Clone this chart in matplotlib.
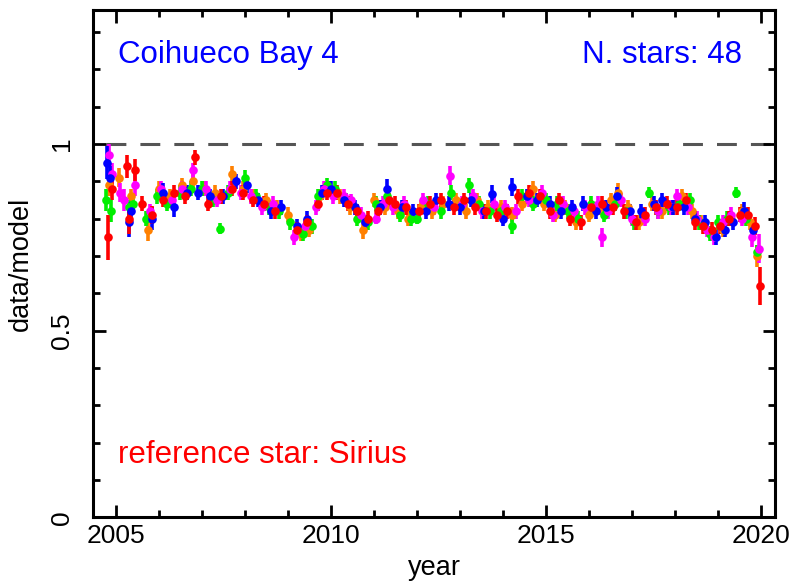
import matplotlib
matplotlib.use("Agg")
import matplotlib.pyplot as plt
from matplotlib.ticker import MultipleLocator, FixedLocator

plt.rcParams['font.family'] = ['Liberation Sans', 'DejaVu Sans']

# ---------------- data ----------------
red_years = [2004.82, 2004.9, 2005.25, 2005.3, 2005.45, 2005.6, 2005.85, 2006.1, 2006.35, 2006.6,
             2006.85, 2007.15, 2007.45, 2007.7, 2007.95, 2008.2, 2008.45, 2008.7, 2009.2, 2009.45,
             2009.7, 2009.9, 2010.15, 2010.4, 2010.6, 2010.85, 2011.1, 2011.35, 2011.5, 2011.75,
             2012.05, 2012.3, 2012.55, 2012.85, 2013.1, 2013.35, 2013.6, 2013.85, 2014.1, 2014.35,
             2014.6, 2014.85, 2015.1, 2015.3, 2015.55, 2015.8, 2016.05, 2016.3, 2016.55, 2016.8,
             2017.1, 2017.3, 2017.55, 2017.8, 2018.05, 2018.25, 2018.45, 2018.65, 2018.85, 2019.05,
             2019.25, 2019.5, 2019.7, 2019.85, 2019.98]
red_vals = [0.75, 0.88, 0.94, 0.80, 0.93, 0.84, 0.81, 0.85, 0.87, 0.86,
            0.965, 0.84, 0.86, 0.88, 0.87, 0.85, 0.84, 0.82, 0.77, 0.79,
            0.84, 0.87, 0.87, 0.84, 0.82, 0.80, 0.82, 0.85, 0.84, 0.83,
            0.82, 0.84, 0.85, 0.83, 0.85, 0.83, 0.82, 0.81, 0.82, 0.86,
            0.87, 0.86, 0.82, 0.85, 0.80, 0.79, 0.83, 0.84, 0.83, 0.82,
            0.79, 0.81, 0.83, 0.84, 0.83, 0.85, 0.79, 0.78, 0.77, 0.78,
            0.80, 0.81, 0.81, 0.78, 0.62]
red_errs = [0.06, 0.03, 0.03, 0.04, 0.03, 0.02, 0.025, 0.02, 0.02, 0.02,
            0.02, 0.02, 0.02, 0.02, 0.02, 0.02, 0.02, 0.02, 0.02, 0.02,
            0.02, 0.02, 0.02, 0.02, 0.02, 0.02, 0.02, 0.02, 0.02, 0.02,
            0.02, 0.02, 0.02, 0.02, 0.02, 0.02, 0.02, 0.02, 0.02, 0.02,
            0.02, 0.02, 0.02, 0.02, 0.02, 0.02, 0.02, 0.02, 0.02, 0.02,
            0.02, 0.02, 0.02, 0.02, 0.02, 0.02, 0.02, 0.02, 0.02, 0.02,
            0.02, 0.02, 0.02, 0.025, 0.05]

orange_years = [2004.85, 2005.07, 2005.35, 2005.75, 2006.0, 2006.25, 2006.55, 2006.8, 2007.05, 2007.3,
                2007.7, 2007.95, 2008.2, 2008.5, 2008.75, 2009.0, 2009.3, 2009.5, 2009.75, 2009.95,
                2010.2, 2010.45, 2010.75, 2011.0, 2011.25, 2011.55, 2011.8, 2012.1, 2012.35, 2012.6,
                2012.9, 2013.15, 2013.4, 2013.65, 2013.95, 2014.2, 2014.45, 2014.7, 2014.95, 2015.2,
                2015.45, 2015.7, 2016.0, 2016.25, 2016.5, 2016.67, 2016.9, 2017.15, 2017.45, 2017.7,
                2017.95, 2018.15, 2018.4, 2018.6, 2018.85, 2019.1, 2019.3, 2019.55, 2019.75, 2019.9]
orange_vals = [0.89, 0.91, 0.86, 0.77, 0.88, 0.86, 0.89, 0.90, 0.88, 0.87,
               0.92, 0.88, 0.86, 0.85, 0.83, 0.81, 0.76, 0.77, 0.86, 0.88,
               0.86, 0.83, 0.77, 0.85, 0.83, 0.82, 0.80, 0.83, 0.82, 0.84,
               0.85, 0.82, 0.85, 0.83, 0.83, 0.81, 0.84, 0.88, 0.84, 0.81,
               0.83, 0.79, 0.81, 0.83, 0.85, 0.87, 0.83, 0.79, 0.84, 0.82,
               0.83, 0.86, 0.82, 0.79, 0.76, 0.77, 0.80, 0.82, 0.79, 0.70]
orange_errs = [0.03, 0.025, 0.02, 0.03, 0.02, 0.02, 0.02, 0.02, 0.02, 0.02,
               0.02, 0.02, 0.02, 0.02, 0.02, 0.02, 0.02, 0.02, 0.02, 0.02,
               0.02, 0.02, 0.025, 0.02, 0.02, 0.02, 0.02, 0.02, 0.02, 0.02,
               0.02, 0.02, 0.02, 0.02, 0.02, 0.02, 0.02, 0.02, 0.02, 0.02,
               0.02, 0.02, 0.02, 0.02, 0.02, 0.025, 0.02, 0.02, 0.02, 0.02,
               0.02, 0.02, 0.02, 0.02, 0.02, 0.02, 0.02, 0.02, 0.02, 0.03]

green_years = [2004.78, 2004.88, 2005.3, 2005.4, 2005.7, 2005.95, 2006.2, 2006.5, 2006.75, 2007.0,
               2007.25, 2007.41, 2007.6, 2008.0, 2008.25, 2008.55, 2008.8, 2009.05, 2009.35, 2009.55,
               2009.7, 2009.9, 2010.1, 2010.35, 2010.6, 2010.85, 2011.05, 2011.3, 2011.6, 2011.85,
               2012.0, 2012.25, 2012.55, 2012.8, 2013.2, 2013.45, 2013.7, 2013.95, 2014.2, 2014.45,
               2014.7, 2015.0, 2015.25, 2015.5, 2015.75, 2016.05, 2016.35, 2016.6, 2016.85, 2017.05,
               2017.4, 2017.6, 2017.85, 2018.1, 2018.35, 2018.55, 2018.8, 2019.0, 2019.2, 2019.42,
               2019.65, 2019.9]
green_vals = [0.85, 0.82, 0.83, 0.84, 0.80, 0.86, 0.84, 0.87, 0.88, 0.88,
              0.85, 0.773, 0.87, 0.91, 0.86, 0.83, 0.82, 0.79, 0.76, 0.78,
              0.86, 0.89, 0.88, 0.85, 0.80, 0.79, 0.84, 0.86, 0.81, 0.80,
              0.80, 0.84, 0.82, 0.87, 0.89, 0.84, 0.82, 0.82, 0.78, 0.86,
              0.84, 0.85, 0.84, 0.82, 0.80, 0.84, 0.81, 0.84, 0.82, 0.79,
              0.87, 0.82, 0.83, 0.84, 0.85, 0.79, 0.76, 0.79, 0.80, 0.87,
              0.80, 0.71]
green_errs = [0.03, 0.03, 0.02, 0.025, 0.02, 0.02, 0.02, 0.02, 0.02, 0.02,
              0.02, 0.015, 0.02, 0.02, 0.02, 0.02, 0.02, 0.02, 0.02, 0.02,
              0.02, 0.02, 0.02, 0.02, 0.02, 0.02, 0.02, 0.02, 0.02, 0.02,
              0.015, 0.02, 0.02, 0.02, 0.02, 0.02, 0.02, 0.02, 0.02, 0.02,
              0.02, 0.02, 0.02, 0.02, 0.02, 0.02, 0.02, 0.02, 0.02, 0.02,
              0.015, 0.02, 0.02, 0.02, 0.02, 0.02, 0.02, 0.02, 0.02, 0.015,
              0.02, 0.02]

blue_years = [2004.8, 2004.87, 2005.3, 2005.35, 2005.85, 2006.1, 2006.35, 2006.65, 2006.9, 2007.2,
              2007.5, 2007.8, 2008.05, 2008.3, 2008.6, 2008.85, 2009.2, 2009.45, 2009.8, 2010.0,
              2010.3, 2010.55, 2010.8, 2011.15, 2011.3, 2011.65, 2011.9, 2012.2, 2012.45, 2012.75,
              2013.0, 2013.25, 2013.55, 2013.75, 2014.0, 2014.2, 2014.55, 2014.8, 2015.1, 2015.35,
              2015.6, 2015.85, 2016.15, 2016.4, 2016.65, 2016.95, 2017.2, 2017.5, 2017.7, 2017.95,
              2018.2, 2018.45, 2018.7, 2018.95, 2019.15, 2019.35, 2019.6, 2019.8]
blue_vals = [0.95, 0.91, 0.79, 0.82, 0.80, 0.87, 0.83, 0.87, 0.87, 0.86,
             0.86, 0.90, 0.89, 0.85, 0.82, 0.83, 0.78, 0.80, 0.87, 0.88,
             0.85, 0.83, 0.79, 0.83, 0.88, 0.83, 0.82, 0.82, 0.85, 0.84,
             0.83, 0.85, 0.82, 0.866, 0.80, 0.885, 0.86, 0.85, 0.84, 0.82,
             0.83, 0.84, 0.82, 0.83, 0.86, 0.82, 0.82, 0.84, 0.85, 0.83,
             0.83, 0.80, 0.79, 0.75, 0.77, 0.79, 0.82, 0.77]
blue_errs = [0.045, 0.03, 0.04, 0.025, 0.03, 0.025, 0.025, 0.02, 0.02, 0.02,
             0.02, 0.02, 0.02, 0.02, 0.02, 0.02, 0.02, 0.02, 0.02, 0.02,
             0.02, 0.02, 0.02, 0.02, 0.025, 0.02, 0.02, 0.02, 0.02, 0.02,
             0.02, 0.02, 0.02, 0.025, 0.02, 0.025, 0.02, 0.02, 0.02, 0.02,
             0.02, 0.02, 0.02, 0.02, 0.025, 0.02, 0.02, 0.02, 0.02, 0.02,
             0.02, 0.02, 0.02, 0.02, 0.02, 0.02, 0.025, 0.025]

magenta_years = [2004.85, 2004.9, 2005.1, 2005.2, 2005.45, 2005.8, 2006.05, 2006.3, 2006.55, 2006.8,
                 2007.1, 2007.35, 2007.65, 2007.9, 2008.15, 2008.4, 2008.65, 2009.15, 2009.4, 2009.65,
                 2009.85, 2010.05, 2010.3, 2010.47, 2010.7, 2011.05, 2011.2, 2011.45, 2011.7, 2012.15,
                 2012.4, 2012.77, 2013.05, 2013.3, 2013.5, 2013.8, 2014.05, 2014.3, 2014.6, 2014.9,
                 2015.15, 2015.4, 2015.65, 2015.9, 2016.2, 2016.3, 2016.45, 2016.75, 2017.0, 2017.3,
                 2017.6, 2017.9, 2018.05, 2018.3, 2018.5, 2018.75, 2018.9, 2019.1, 2019.3, 2019.55,
                 2019.78, 2019.95]
magenta_vals = [0.97, 0.92, 0.87, 0.85, 0.89, 0.82, 0.88, 0.85, 0.88, 0.93,
                0.88, 0.85, 0.88, 0.87, 0.86, 0.83, 0.84, 0.75, 0.78, 0.83,
                0.88, 0.86, 0.86, 0.85, 0.81, 0.80, 0.84, 0.83, 0.84, 0.85,
                0.83, 0.915, 0.84, 0.86, 0.82, 0.84, 0.83, 0.82, 0.85, 0.87,
                0.81, 0.84, 0.82, 0.83, 0.84, 0.75, 0.82, 0.85, 0.80, 0.80,
                0.82, 0.83, 0.86, 0.83, 0.80, 0.77, 0.75, 0.79, 0.81, 0.80,
                0.75, 0.72]
magenta_errs = [0.03, 0.03, 0.025, 0.03, 0.03, 0.02, 0.02, 0.02, 0.02, 0.02,
                0.02, 0.02, 0.02, 0.02, 0.02, 0.02, 0.02, 0.02, 0.02, 0.02,
                0.02, 0.02, 0.02, 0.015, 0.02, 0.015, 0.02, 0.02, 0.02, 0.02,
                0.02, 0.025, 0.02, 0.02, 0.02, 0.02, 0.02, 0.02, 0.02, 0.02,
                0.02, 0.02, 0.02, 0.02, 0.02, 0.025, 0.02, 0.02, 0.02, 0.02,
                0.02, 0.02, 0.02, 0.02, 0.02, 0.02, 0.02, 0.02, 0.02, 0.02,
                0.025, 0.04]

series = [
    ("#ff8000", orange_years, orange_vals, orange_errs),
    ("#00ee00", green_years, green_vals, green_errs),
    ("#ff00ff", magenta_years, magenta_vals, magenta_errs),
    ("#0000ff", blue_years, blue_vals, blue_errs),
    ("#ff0000", red_years, red_vals, red_errs),
]

x_major = [2005, 2010, 2015, 2020]
y_major = [0, 0.5, 1]
y_major_labels = ["0", "0.5", "1"]

# ---------------- figure ----------------
fig = plt.figure(figsize=(7.93, 5.81), dpi=100)
ax = fig.add_axes([93/793, 1 - 517.3/581, 682/793, 507.3/581])

first_year = min(min(s[1]) for s in series)
ax.plot([first_year, 2020.32], [1, 1], color="#555555", lw=2.2,
        dashes=(6.5, 4.6), zorder=1)

for col, xs, ys, es in series:
    ax.errorbar(xs, ys, yerr=es, fmt='o', color=col, ms=6.2, mew=0,
                elinewidth=2.6, capsize=0, zorder=3)

ax.set_xlim(2004.47, 2020.32)
ax.set_ylim(0, 1.359)

ax.xaxis.set_major_locator(FixedLocator(x_major))
ax.xaxis.set_minor_locator(MultipleLocator(1))
ax.yaxis.set_major_locator(FixedLocator(y_major))
ax.set_yticklabels(y_major_labels, rotation=90, va='center')
ax.yaxis.set_minor_locator(MultipleLocator(0.1))

for sp in ax.spines.values():
    sp.set_linewidth(2.2)

ax.tick_params(which='both', direction='in', top=True, right=True, width=2.0,
               labelsize=19)
ax.tick_params(which='major', length=9)
ax.tick_params(which='minor', length=5)
ax.tick_params(axis='x', which='major', pad=5)
ax.tick_params(axis='y', which='major', pad=14)

ax.set_xlabel("year", fontsize=19.5, labelpad=5)
ax.set_ylabel("data/model", fontsize=19.5, labelpad=11)

ax.text(0.037, 0.8955, "Coihueco Bay 4", transform=ax.transAxes, color="blue",
        fontsize=22.5, ha='left', va='baseline')
ax.text(0.952, 0.8955, "N. stars: 48", transform=ax.transAxes, color="blue",
        fontsize=22.5, ha='right', va='baseline')
ax.text(0.037, 0.107, "reference star: Sirius", transform=ax.transAxes, color="red",
        fontsize=22.5, ha='left', va='baseline')

fig.savefig("out.png", dpi=100)
